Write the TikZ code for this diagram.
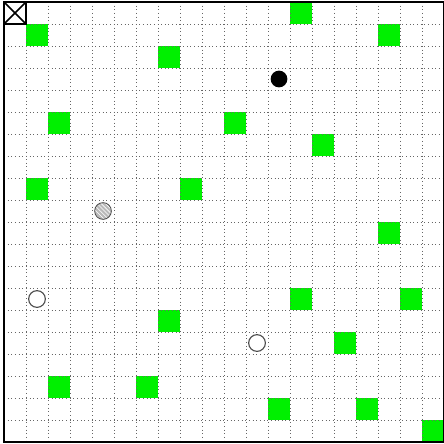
\documentclass[tikz,border=0pt]{standalone}
\usetikzlibrary{patterns}
\definecolor{cellgreen}{RGB}{0,240,0}
\begin{document}
\begin{tikzpicture}[x=0.55cm,y=-0.55cm,
  gridline/.style={gray!80!black,dotted,line width=0.6pt},
  frame/.style={black,line width=1.1pt},
  goal/.style={fill=cellgreen},
  dot/.style={circle,minimum size=0.76*0.55cm,inner sep=0pt}]
\useasboundingbox (-0.182,-0.091) rectangle (19.955,20.09);
\fill[white] (-0.182,-0.091) rectangle (19.955,20.09);
% green cells (col,row)
\foreach \c/\r in {13/0,1/1,17/1,7/2,2/5,10/5,14/6,1/8,8/8,17/10,13/13,18/13,7/14,15/15,2/17,6/17,12/18,16/18,19/19}
  \fill[goal] (\c,\r) rectangle ++(1,1);
% grid
\foreach \i in {1,...,19} {
  \draw[gridline] (\i,0) -- (\i,20);
  \draw[gridline] (0,\i) -- (20,\i);
}
\draw[frame] (0,0) rectangle (20,20);
% start cell with cross
\draw[frame] (0,0) rectangle (1,1);
\draw[frame] (0,0) -- (1,1);
\draw[frame] (1,0) -- (0,1);
% markers
\node[dot,fill=black] (agent) at (12.5,3.5) {};
\node[dot,draw=gray!60!black,line width=0.6pt,preaction={fill=gray!55},pattern=north west lines,pattern color=white] (hatch) at (4.5,9.5) {};
\node[dot,draw=gray!60!black,line width=0.8pt,fill=white] (c1) at (1.5,13.5) {};
\node[dot,draw=gray!60!black,line width=0.8pt,fill=white] (c2) at (11.5,15.5) {};
\end{tikzpicture}
\end{document}
